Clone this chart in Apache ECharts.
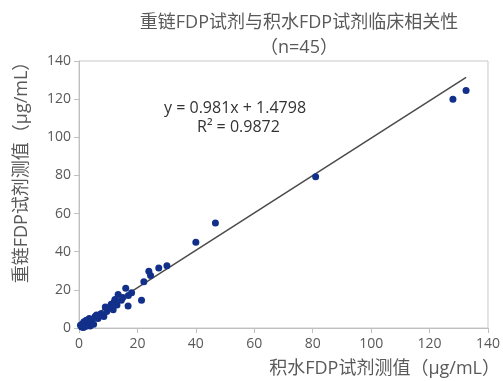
<!DOCTYPE html>
<html><head><meta charset="utf-8">
<script src="https://cdn.jsdelivr.net/npm/echarts@6/dist/echarts.min.js"></script>
<style>html,body{margin:0;padding:0;background:#fff}#c{width:503px;height:381px}</style>
</head><body><div id="c"></div>
<script>
const titleLines = ['重链FDP试剂与积水FDP试剂临床相关性', '（n=45）'];
const xName = '积水FDP试剂测值（μg/mL）';
const yName = '重链FDP试剂测值（μg/mL）';
const xTicks = [0, 20, 40, 60, 80, 100, 120, 140];
const yTicks = [0, 20, 40, 60, 80, 100, 120, 140];
// 积水FDP (x) values
const xVals = [132.5, 128, 81, 46.7, 40, 30.1, 27.3, 23.9, 24.5, 22.2, 21.4, 16, 16.9, 16.8, 13.4,
  12.3, 11, 11.7, 9.5, 8.5, 5.5, 3.8, 1.7, 0.9, 14.5, 13, 10, 7.5, 6.5, 4.5,
  3, 2.5, 2, 1.2, 0.5, 1.5, 4, 3.5, 5, 9, 12, 6, 18, 15, 2.2];
// 重链FDP (y) values
const yVals = [124.5, 120, 79.3, 55, 45, 32.7, 31.5, 29.8, 27.5, 24.2, 14.5, 20.8, 17, 11.5, 17.6,
  15, 12.5, 9.6, 8.6, 6, 6, 1, 3.3, 0.5, 14.5, 12, 10.5, 7.5, 5, 4.5,
  2.5, 4, 1.5, 2.2, 1.5, 0.3, 3, 5, 2, 11, 13.5, 6.8, 18.5, 16, 0.8];
const slope = 0.981, intercept = 1.4798, r2 = 0.9872;
const fitRange = [0, 132.5];

const pts = xVals.map((v, i) => [v, yVals[i]]);
const fitLine = fitRange.map(x => [x, slope * x + intercept]);
const font = '"Open Sans", "Noto Sans CJK SC", sans-serif';
const txt = '#595959';

const chart = echarts.init(document.getElementById('c'), null, {renderer: 'canvas'});
chart.setOption({
  animation: false,
  backgroundColor: '#fff',
  title: {
    text: titleLines.join('\n'),
    left: 294, top: 5, textAlign: 'center',
    textStyle: {fontFamily: font, fontSize: 18, fontWeight: 'normal', color: txt, lineHeight: 25}
  },
  grid: {left: 79, right: 14, top: 61, bottom: 53, show: true, borderColor: '#c8c8c8', borderWidth: 1},
  xAxis: {
    type: 'value', min: 0, max: 140, interval: 20,
    name: xName, nameLocation: 'end', nameGap: 12,
    nameTextStyle: {fontFamily: font, fontSize: 18, color: txt, align: 'right', verticalAlign: 'top', padding: [32, 0, 0, 0]},
    axisLine: {show: true, lineStyle: {color: '#c0c0c0', width: 1}},
    axisTick: {show: true, length: 5, lineStyle: {color: '#c0c0c0'}},
    axisLabel: {fontFamily: font, fontSize: 14, color: txt, margin: 9,
      formatter: v => xTicks.includes(v) ? String(v) : ''},
    splitLine: {show: false}
  },
  yAxis: {
    type: 'value', min: 0, max: 140, interval: 20,
    axisLine: {show: true, lineStyle: {color: '#c0c0c0', width: 1}},
    axisTick: {show: true, length: 5, lineStyle: {color: '#c0c0c0'}},
    axisLabel: {fontFamily: font, fontSize: 14, color: txt, margin: 8,
      formatter: v => yTicks.includes(v) ? String(v) : ''},
    splitLine: {show: false}
  },
  graphic: [
    {type: 'text', x: 22, y: 168, rotation: Math.PI / 2,
      style: {text: yName, font: '18px ' + font, fill: txt, align: 'center', verticalAlign: 'middle'}},
    {type: 'text', left: 164, top: 100,
      style: {text: 'y = ' + slope + 'x + ' + intercept, font: '16px ' + font, fill: '#333'}},
    {type: 'text', left: 197, top: 119,
      style: {text: 'R² = ' + r2, font: '16px ' + font, fill: '#333'}}
  ],
  series: [
    {type: 'line', data: fitLine, symbol: 'none', silent: true,
      lineStyle: {color: '#4a4a4a', width: 1.5}, z: 1},
    {type: 'scatter', data: pts, symbolSize: 7,
      itemStyle: {color: '#12308a', opacity: 1}, z: 2}
  ]
});
</script></body></html>
